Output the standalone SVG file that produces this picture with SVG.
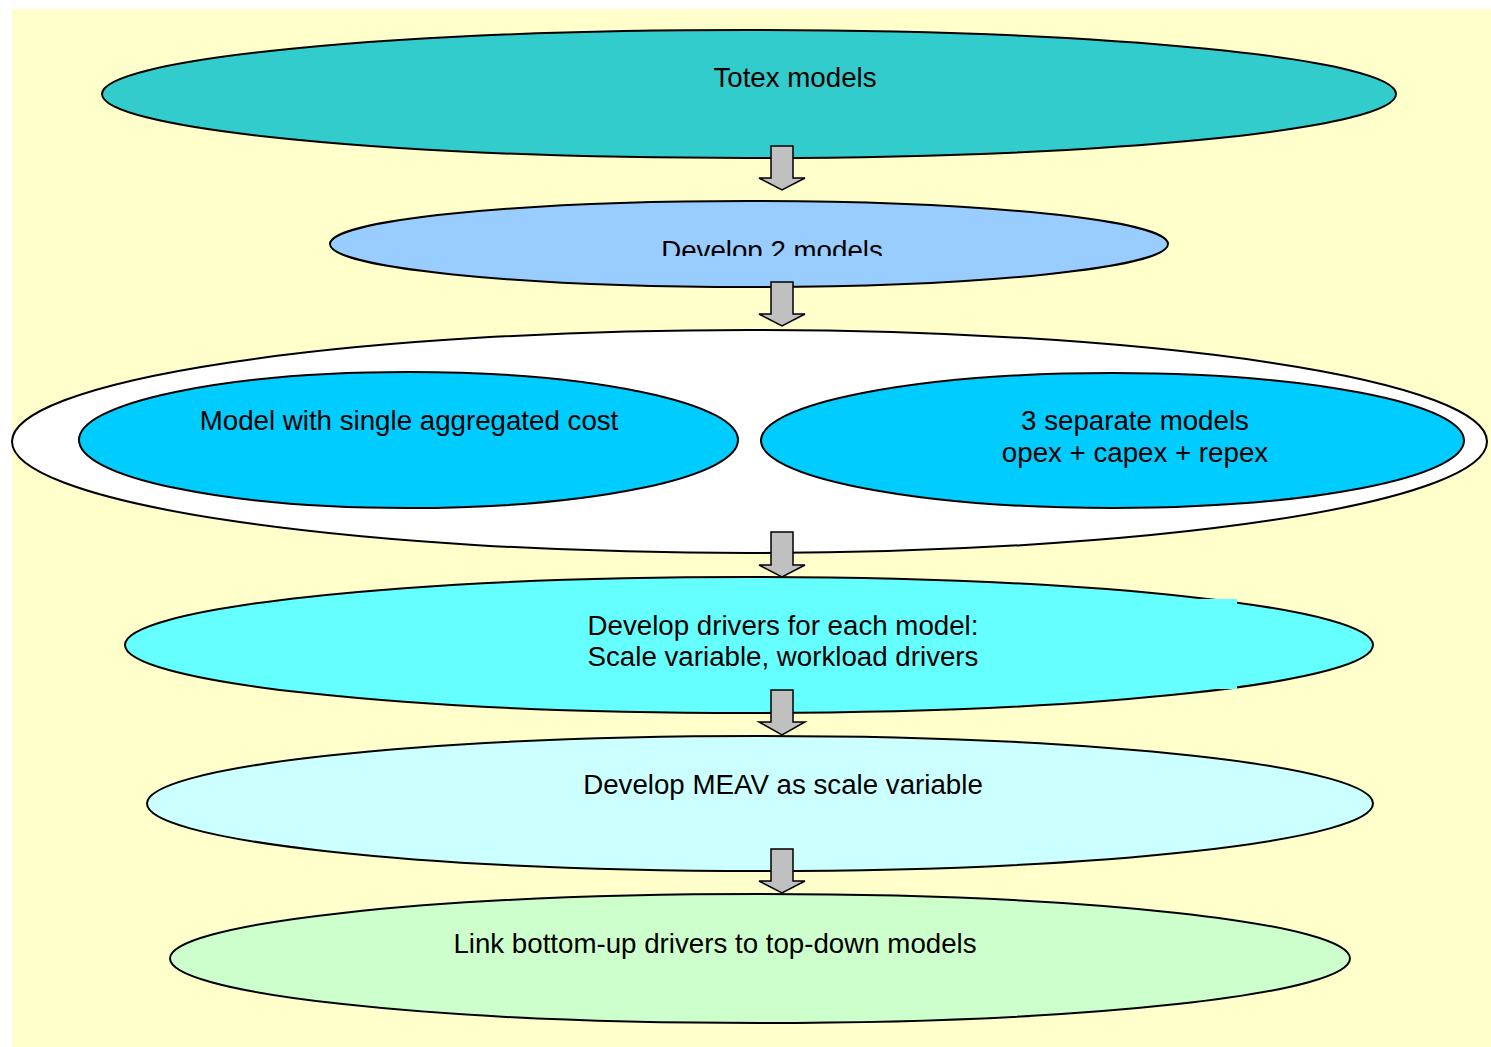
<svg xmlns="http://www.w3.org/2000/svg" width="1491" height="1047" viewBox="0 0 1491 1047">
<style>
.n{stroke:#000;stroke-width:2}
.t{font-family:"Liberation Sans",Arial,sans-serif;font-size:27.7px;fill:#000;text-anchor:middle}
.a{fill:#C0C0C0;stroke:#000;stroke-width:1.5;stroke-linejoin:miter}
</style>
<defs>
<clipPath id="clip2"><rect x="330" y="200" width="840" height="56"/></clipPath>
</defs>
<rect x="12" y="9" width="1479" height="1038" fill="#FFFFCC"/>
<g id="totex">
<ellipse class="n" cx="749" cy="94" rx="647" ry="64" fill="#33CCCC"/>
<text class="t" x="795" y="87">Totex models</text>
</g>
<g id="develop2">
<ellipse class="n" cx="749" cy="244" rx="419" ry="43" fill="#99CCFF"/>
<text class="t" x="772" y="260" clip-path="url(#clip2)">Develop 2 models</text>
</g>
<g id="group">
<ellipse class="n" cx="749.5" cy="441.5" rx="737.5" ry="111.5" fill="#FFFFFF"/>
</g>
<g id="single">
<ellipse class="n" cx="408.5" cy="440" rx="329.5" ry="68" fill="#00CCFF"/>
<text class="t" x="409" y="430">Model with single aggregated cost</text>
</g>
<g id="separate">
<ellipse class="n" cx="1112.5" cy="440.5" rx="351.5" ry="67.5" fill="#00CCFF"/>
<text class="t" x="1135" y="430">3 separate models</text>
<text class="t" x="1135" y="462">opex + capex + repex</text>
</g>
<g id="drivers">
<ellipse class="n" cx="749" cy="645" rx="624" ry="68" fill="#66FFFF"/>
<rect x="329" y="599" width="908" height="90" fill="#66FFFF"/>
<text class="t" x="783" y="635">Develop drivers for each model:</text>
<text class="t" x="783" y="666">Scale variable, workload drivers</text>
</g>
<g id="meav">
<ellipse class="n" cx="760" cy="803.5" rx="613" ry="67.5" fill="#CCFFFF"/>
<text class="t" x="783" y="794">Develop MEAV as scale variable</text>
</g>
<g id="link">
<ellipse class="n" cx="760" cy="958.5" rx="590" ry="64.5" fill="#CCFFCC"/>
<text class="t" x="715" y="953">Link bottom-up drivers to top-down models</text>
</g>
<g id="connectors">
<polygon class="a" points="771,146 793,146 793,178 805,178 782,190 759,178 771,178"/>
<polygon class="a" points="771,282 793,282 793,314 805,314 782,326 759,314 771,314"/>
<polygon class="a" points="771,532 793,532 793,565 805,565 782,577 759,565 771,565"/>
<polygon class="a" points="771,690 793,690 793,722 805,722 782,735 759,722 771,722"/>
<polygon class="a" points="771,849 793,849 793,881 805,881 782,893 759,881 771,881"/>
</g>
</svg>
